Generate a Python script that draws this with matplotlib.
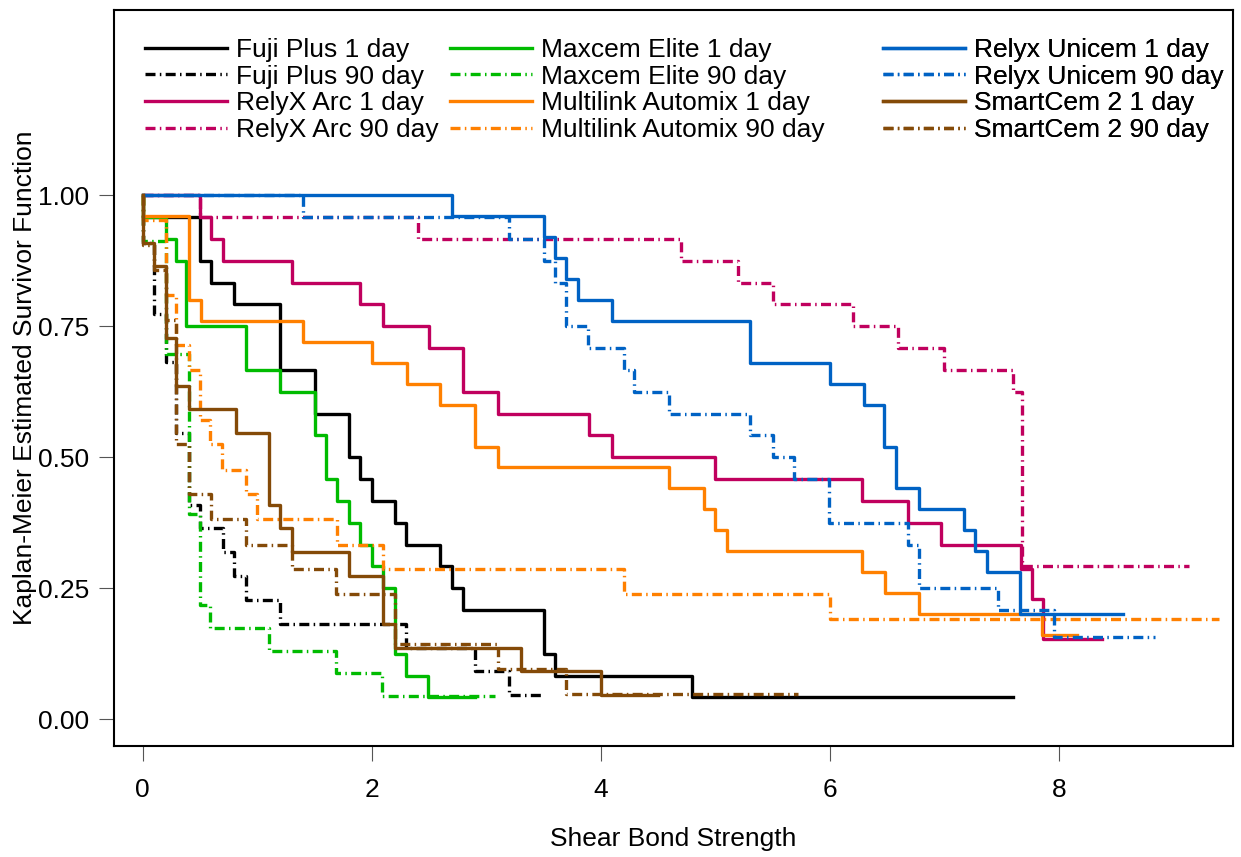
import matplotlib
matplotlib.use("Agg")
import matplotlib.pyplot as plt

plt.rcParams['font.family'] = ['Liberation Sans', 'DejaVu Sans']

# Kaplan-Meier step data: failure times, survival after each step, last observed time
fuji1_t = [0.0, 0.5, 0.6, 0.8, 1.2, 1.5, 1.8, 1.9, 2.0, 2.2, 2.3, 2.6, 2.7, 2.8, 3.5, 3.6, 4.8]
fuji1_s = [0.958, 0.875, 0.833, 0.792, 0.667, 0.583, 0.500, 0.458, 0.417, 0.375, 0.333,
           0.292, 0.250, 0.208, 0.125, 0.083, 0.042]
fuji1_end = 7.6

fuji90_t = [0.0, 0.1, 0.2, 0.29, 0.4, 0.5, 0.7, 0.8, 0.9, 1.2, 2.3, 2.9, 3.2]
fuji90_s = [0.909, 0.773, 0.682, 0.545, 0.409, 0.364, 0.318, 0.273, 0.227, 0.182, 0.136, 0.091, 0.045]
fuji90_end = 3.5

arc1_t = [0.5, 0.6, 0.7, 1.3, 1.9, 2.1, 2.5, 2.8, 3.1, 3.9, 4.1, 5.0, 6.28, 6.68, 6.97,
          7.67, 7.77, 7.86]
arc1_s = [0.958, 0.917, 0.875, 0.833, 0.792, 0.750, 0.708, 0.625, 0.583, 0.542, 0.500,
          0.458, 0.417, 0.375, 0.333, 0.286, 0.229, 0.152]
arc1_end = 8.38

arc90_t = [0.5, 2.4, 4.7, 5.2, 5.5, 6.2, 6.6, 7.0, 7.6, 7.68]
arc90_s = [0.958, 0.917, 0.875, 0.833, 0.792, 0.750, 0.708, 0.667, 0.625, 0.292]
arc90_end = 9.14

maxcem1_t = [0.0, 0.2, 0.29, 0.38, 0.9, 1.2, 1.5, 1.6, 1.7, 1.8, 1.9, 2.0, 2.1, 2.2, 2.3, 2.49]
maxcem1_s = [0.958, 0.917, 0.875, 0.750, 0.667, 0.625, 0.542, 0.458, 0.417, 0.375, 0.333,
             0.292, 0.250, 0.125, 0.083, 0.042]
maxcem1_end = 2.9

maxcem90_t = [0.0, 0.2, 0.4, 0.5, 0.59, 1.1, 1.69, 2.09]
maxcem90_s = [0.913, 0.696, 0.391, 0.217, 0.174, 0.130, 0.087, 0.043]
maxcem90_end = 3.08

multi1_t = [0.0, 0.4, 0.51, 1.4, 2.0, 2.31, 2.6, 2.9, 3.1, 4.6, 4.9, 5.0, 5.1, 6.28, 6.48,
            6.78, 7.85]
multi1_s = [0.96, 0.80, 0.76, 0.72, 0.68, 0.64, 0.60, 0.52, 0.48, 0.44, 0.40, 0.36, 0.32,
            0.28, 0.24, 0.20, 0.16]
multi1_end = 8.16

multi90_t = [0.0, 0.2, 0.29, 0.4, 0.5, 0.59, 0.69, 0.9, 1.0, 1.7, 2.1, 4.2, 6.0]
multi90_s = [0.952, 0.810, 0.714, 0.667, 0.571, 0.524, 0.476, 0.429, 0.381, 0.333, 0.286,
             0.238, 0.190]
multi90_end = 9.4

unicem1_t = [2.7, 3.5, 3.6, 3.7, 3.8, 4.1, 5.3, 6.0, 6.3, 6.47, 6.58, 6.78, 7.17, 7.27,
             7.37, 7.66]
unicem1_s = [0.96, 0.92, 0.88, 0.84, 0.80, 0.76, 0.68, 0.64, 0.60, 0.52, 0.44, 0.40, 0.36,
             0.32, 0.28, 0.20]
unicem1_end = 8.56

unicem90_t = [1.4, 3.2, 3.5, 3.6, 3.7, 3.89, 4.2, 4.29, 4.6, 5.3, 5.5, 5.69, 5.99, 6.68,
              6.78, 7.47, 7.96]
unicem90_s = [0.958, 0.917, 0.875, 0.833, 0.750, 0.708, 0.667, 0.625, 0.583, 0.542, 0.500,
              0.458, 0.375, 0.333, 0.250, 0.208, 0.156]
unicem90_end = 8.84

smart1_t = [0.0, 0.1, 0.2, 0.29, 0.4, 0.81, 1.1, 1.2, 1.3, 1.8, 2.1, 2.2, 3.3, 4.0]
smart1_s = [0.909, 0.864, 0.727, 0.636, 0.591, 0.545, 0.409, 0.364, 0.318, 0.273, 0.182,
            0.136, 0.091, 0.045]
smart1_end = 4.5

smart90_t = [0.0, 0.1, 0.2, 0.29, 0.4, 0.6, 0.9, 1.3, 1.69, 2.2, 3.1, 3.7]
smart90_s = [0.905, 0.857, 0.762, 0.524, 0.429, 0.381, 0.333, 0.286, 0.238, 0.143, 0.095, 0.048]
smart90_end = 5.72

labels = ["Fuji Plus 1 day", "Fuji Plus 90 day", "RelyX Arc 1 day", "RelyX Arc 90 day",
          "Maxcem Elite 1 day", "Maxcem Elite 90 day", "Multilink Automix 1 day",
          "Multilink Automix 90 day", "Relyx Unicem 1 day", "Relyx Unicem 90 day",
          "SmartCem 2 1 day", "SmartCem 2 90 day"]
curves = [(fuji1_t, fuji1_s, fuji1_end), (fuji90_t, fuji90_s, fuji90_end),
          (arc1_t, arc1_s, arc1_end), (arc90_t, arc90_s, arc90_end),
          (maxcem1_t, maxcem1_s, maxcem1_end), (maxcem90_t, maxcem90_s, maxcem90_end),
          (multi1_t, multi1_s, multi1_end), (multi90_t, multi90_s, multi90_end),
          (unicem1_t, unicem1_s, unicem1_end), (unicem90_t, unicem90_s, unicem90_end),
          (smart1_t, smart1_s, smart1_end), (smart90_t, smart90_s, smart90_end)]

cement_colors = ["#000000", "#C0005E", "#00BB00", "#FF8000", "#0062C4", "#844A08"]
dashdot = (0, (3.0, 1.3, 0.45, 1.3))

fig = plt.figure(figsize=(12.41, 8.57), dpi=100)
ax = fig.add_axes([0.0919, 0.1295, 0.9017, 0.8588])

lines = []
for i, (t, s, end) in enumerate(curves):
    x = [0.0] + t + [end]
    y = [1.0] + s + [s[-1]]
    ls = "-" if i % 2 == 0 else dashdot
    ln, = ax.plot(x, y, drawstyle="steps-post", color=cement_colors[i // 2],
                  linestyle=ls, linewidth=2.4, label=labels[i])
    ln.set_dash_capstyle("butt")
    lines.append(ln)

ax.set_xlim(-0.2507, 9.522)
ax.set_ylim(-0.0515, 1.353)
ax.set_xticks([0, 2, 4, 6, 8])
ax.set_yticks([0, 0.25, 0.5, 0.75, 1.0])
ax.set_yticklabels(["0.00", "0.25", "0.50", "0.75", "1.00"])
ax.tick_params(direction="out", length=10.8, width=0.8, color="#555555", labelsize=19)
ax.tick_params(axis="x", pad=12)
ax.tick_params(axis="y", pad=7)
for sp in ax.spines.values():
    sp.set_linewidth(1.5)

ax.set_xlabel("Shear Bond Strength", fontsize=19, labelpad=18)
ax.set_ylabel("Kaplan-Meier Estimated Survivor Function", fontsize=19, labelpad=1)

col_x = [0.0277, 0.3003, 0.6872]
for k, xa in enumerate(col_x):
    leg = ax.legend(handles=lines[4 * k:4 * k + 4], loc="upper left",
                    bbox_to_anchor=(xa, 0.962), frameon=False, fontsize=19,
                    handlelength=3.1, handletextpad=0.34, labelspacing=0.1,
                    borderpad=0, borderaxespad=0)
    ax.add_artist(leg)

fig.savefig("out.png", dpi=100)
